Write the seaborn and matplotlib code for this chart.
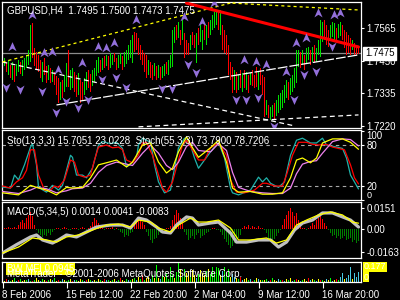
import matplotlib
matplotlib.use("Agg")
import matplotlib.pyplot as plt
from matplotlib.path import Path
import numpy as np
import seaborn as sns

# ---------------- data ----------------
SYMBOL_TEXT = "GBPUSD,H4  1.7495 1.7500 1.7473 1.7475"
LAST_PRICE = 1.7475

HIGH = [1.7452,1.7459,1.7445,1.7452,1.7435,1.7445,1.7431,1.7438,1.7452,1.7445,
        1.7452,1.7459,1.7470,1.7487,1.7575,1.7582,1.7494,1.7480,1.7470,1.7452,
        1.7445,1.7459,1.7431,1.7435,1.7424,1.7417,1.7410,1.7396,1.7389,1.7375,
        1.7382,1.7399,1.7442,1.7487,1.7417,1.7424,1.7410,1.7399,1.7406,1.7382,
        1.7375,1.7389,1.7410,1.7417,1.7403,1.7417,1.7424,1.7452,1.7463,1.7452,
        1.7459,1.7466,1.7470,1.7466,1.7477,1.7470,1.7477,1.7459,1.7470,1.7477,
        1.7466,1.7480,1.7487,1.7505,1.7522,1.7540,1.7551,1.7547,1.7529,1.7505,
        1.7487,1.7477,1.7470,1.7452,1.7445,1.7435,1.7442,1.7431,1.7435,1.7427,
        1.7431,1.7438,1.7445,1.7452,1.7470,1.7558,1.7568,1.7575,1.7586,1.7558,
        1.7593,1.7547,1.7522,1.7512,1.7540,1.7551,1.7540,1.7547,1.7565,1.7575,
        1.7558,1.7582,1.7575,1.7586,1.7593,1.7610,1.7621,1.7628,1.7621,1.7628,
        1.7575,1.7558,1.7540,1.7505,1.7445,1.7427,1.7417,1.7410,1.7399,1.7417,
        1.7406,1.7417,1.7410,1.7399,1.7406,1.7417,1.7399,1.7427,1.7410,1.7424,
        1.7399,1.7392,1.7311,1.7294,1.7287,1.7294,1.7301,1.7311,1.7329,1.7336,
        1.7347,1.7364,1.7382,1.7375,1.7389,1.7399,1.7424,1.7487,1.7487,1.7480,
        1.7487,1.7470,1.7494,1.7498,1.7487,1.7498,1.7505,1.7494,1.7522,1.7593,
        1.7586,1.7593,1.7575,1.7558,1.7575,1.7586,1.7582,1.7565,1.7579,1.7586,
        1.7575,1.7558,1.7551,1.7540,1.7529,1.7522,1.7512,1.7505,1.7500]
LOW = [1.7417,1.7431,1.7410,1.7399,1.7389,1.7382,1.7375,1.7396,1.7410,1.7403,
       1.7396,1.7417,1.7424,1.7435,1.7445,1.7459,1.7431,1.7417,1.7410,1.7389,
       1.7375,1.7399,1.7371,1.7382,1.7371,1.7375,1.7364,1.7329,1.7301,1.7311,
       1.7318,1.7340,1.7357,1.7357,1.7347,1.7354,1.7340,1.7322,1.7329,1.7301,
       1.7311,1.7329,1.7347,1.7354,1.7340,1.7361,1.7375,1.7396,1.7406,1.7410,
       1.7417,1.7424,1.7431,1.7417,1.7424,1.7435,1.7445,1.7417,1.7424,1.7438,
       1.7417,1.7427,1.7438,1.7452,1.7459,1.7442,1.7480,1.7487,1.7470,1.7452,
       1.7435,1.7410,1.7389,1.7399,1.7389,1.7382,1.7396,1.7382,1.7389,1.7382,
       1.7389,1.7396,1.7403,1.7399,1.7424,1.7427,1.7512,1.7522,1.7529,1.7505,
       1.7522,1.7459,1.7470,1.7470,1.7487,1.7505,1.7494,1.7442,1.7505,1.7515,
       1.7487,1.7522,1.7505,1.7529,1.7540,1.7558,1.7565,1.7575,1.7558,1.7540,
       1.7487,1.7477,1.7470,1.7399,1.7382,1.7336,1.7347,1.7336,1.7347,1.7354,
       1.7340,1.7354,1.7347,1.7336,1.7364,1.7361,1.7354,1.7357,1.7347,1.7364,
       1.7329,1.7252,1.7259,1.7248,1.7241,1.7252,1.7241,1.7255,1.7265,1.7276,
       1.7283,1.7301,1.7318,1.7311,1.7329,1.7340,1.7354,1.7371,1.7427,1.7424,
       1.7435,1.7417,1.7442,1.7452,1.7435,1.7445,1.7442,1.7445,1.7470,1.7463,
       1.7515,1.7522,1.7505,1.7498,1.7522,1.7533,1.7522,1.7515,1.7529,1.7536,
       1.7522,1.7494,1.7470,1.7477,1.7470,1.7487,1.7470,1.7470,1.7473]
BAR_DIR = ("uudududuud" "uuuuuddddd" "uddududddu" "duuduuddud" "duudduuuud"
           "ududuudduu" "duuuuudddd" "ddduddudud" "uuduuuudud" "uddduddudu"
           "ududuuuudu" "ddddddudud" "udududddud" "dduduuduuu" "uuuduuuuud"
           "uduududuuu" "uddduuuduu" "ddddduddd")

UP_FRACTAL_BAR = [5,15,21,25,28,40,48,52,56,67,91,100,106,121,127,132,142,147,152,158,166,169]
UP_FRACTAL_PRICE = [1.7498,1.7610,1.7477,1.7480,1.7417,1.7442,1.7498,1.7494,1.7512,1.7593,1.7603,
                    1.7586,1.7652,1.7452,1.7445,1.7435,1.7410,1.7512,1.7529,1.7617,1.7610,1.7617]
DN_FRACTAL_BAR = [2,9,20,27,32,38,43,50,57,62,80,85,93,97,117,122,128,136,146,151,157,165]
DN_FRACTAL_PRICE = [1.7354,1.7347,1.7340,1.7266,1.7305,1.7283,1.7311,1.7382,1.7389,1.7354,1.7350,
                    1.7350,1.7435,1.7406,1.7311,1.7311,1.7318,1.7217,1.7311,1.7399,1.7410,1.7498]

# drawn objects: (bars, prices)
CHAN_A = ([0, 145], [1.7445, 1.7222])
CHAN_B = ([68, 178], [1.7217, 1.7259])
CHAN_C = ([27, 178], [1.7294, 1.7470])
CHAN_D = ([0, 116], [1.7445, 1.7656])
TREND_RED = ([92, 178], [1.7652, 1.7498])
CHAN_F = ([115, 178], [1.7652, 1.7628])

PRICE_TICKS = [1.7565, 1.7450, 1.7335, 1.7220]

# Stochastics
STO_TEXT = "Sto(13,3,3) 15.7051 23.0228  Stoch(55,3,3) 73.7900 78.7206"
K_BAR = [0,4,6,8,11,14,15,17,18,22,25,28,30,34,35,37,40,42,45,48,50,54,57,60,62,64,67,68,70,74,
         76,78,81,84,86,88,91,94,96,98,104,108,111,114,115,118,124,128,130,132,134,138,141,144,147,
         150,154,157,160,162,167,170,172,174,178]
K_VAL = [18.5,17,36,29,51,77,82,51,18,11,21,14,21,65,62,36,36,32,46,80,85,82,84,75,48,52,62,80,90,84,
         51,26,10,14,46,76,90,80,61,46,70,84,61,17,10,7,14,33,26,32,24,18,26,65,87,
         90,83,83,90,80,77,75,61,36,15.7]
D_BAR = [0,4,7,10,12,14,16,18,21,24,26,28,31,34,36,38,41,44,46,48,52,55,58,60,62,65,68,70,72,75,
         78,80,82,85,88,90,92,95,98,101,104,108,112,114,117,121,126,130,132,136,140,142,145,148,152,
         155,158,162,165,168,171,174,176,178]
D_VAL = [20,17,26,32,43,73,73,36,14,14,20,18,29,58,55,36,33,36,58,77,80,76,77,73,58,54,65,83,84,65,
         36,17,11,26,58,80,87,73,58,58,76,83,65,29,11,10,14,24,24,20,20,36,65,84,84,
         81,80,81,77,75,73,51,32,23]
S_BAR = [0,8,14,17,22,27,32,35,40,44,48,52,57,62,65,70,74,78,82,85,88,92,95,98,104,108,112,115,118,
         124,130,135,140,144,147,150,154,157,160,165,170,174,178]
S_MAIN = [10,7,21,18,14,7,18,17,18,32,51,54,58,48,55,80,83,55,39,46,70,92,76,62,76,87,55,17,11,
          12,8,8,10,32,58,61,54,61,83,89,89,84,73.8]
S_SIGNAL = [12,9,14,18,16,10,13,16,17,24,40,50,55,52,50,68,80,68,50,44,55,78,84,72,70,82,72,40,18,
            12,10,9,9,17,38,52,56,57,68,85,89,88,78.7]
STO_LEVELS = [80, 20]
STO_TICKS = [100, 80, 20, 0]

# MACD
MACD_TEXT = "MACD(5,34,5) 0.0014 0.0041 -0.0083"
MACD_BAR = [0,7,14,17,20,25,28,32,37,42,47,54,60,64,68,72,77,80,84,87,92,95,98,104,108,114,117,122,
            128,134,138,142,146,150,155,160,165,170,174,178]
MACD_MAIN = [-0.0169,-0.0110,-0.0056,-0.0042,-0.0077,-0.0099,-0.0077,-0.0042,-0.0056,-0.0021,0.0014,
             0.0028,0.0028,0.0007,0.0077,0.0063,0.0014,-0.0021,-0.0028,0.0028,0.0085,0.0077,0.0028,
             0.0042,0.0049,-0.0028,-0.0092,-0.0092,-0.0077,-0.0077,-0.0127,-0.0092,-0.0007,0.0042,
             0.0063,0.0113,0.0113,0.0085,0.0063,0.0014]
SIG_BAR = [0,8,15,22,27,32,38,45,52,58,64,68,74,78,84,88,94,98,102,108,114,118,124,132,137,142,147,
           152,158,164,170,175,178]
MACD_SIGNAL = [-0.0169,-0.0127,-0.0063,-0.0077,-0.0092,-0.0056,-0.0042,-0.0007,0.0028,0.0035,0.0014,
               0.0063,0.0049,0.0007,-0.0021,0.0028,0.0077,0.0049,0.0049,0.0063,0.0007,-0.0077,-0.0077,
               -0.0063,-0.0099,-0.0077,0.0028,0.0063,0.0099,0.0120,0.0099,0.0049,0.0041]
MACD_HIST = [0.0005,0.0010,0.0008,0.0012,0.0006,0.0010,0.0014,0.0008,
             0.0030,0.0050,0.0060,0.0040,0.0080,0.0100,0.0120,0.0090,
             0.0030,-0.0010,
             -0.0030,-0.0040,-0.0056,-0.0040,-0.0050,-0.0030,-0.0040,-0.0020,
             -0.0010,0.0005,0.0010,-0.0005,0.0008,0.0015,0.0006,-0.0008,-0.0010,0.0005,0.0010,0.0008,
             -0.0005,0.0006,0.0012,0.0005,-0.0006,0.0010,0.0020,
             0.0050,0.0077,0.0060,0.0040,
             0.0010,0.0005,-0.0005,0.0010,0.0008,0.0005,0.0012,-0.0006,0.0007,-0.0010,-0.0020,
             -0.0030,-0.0056,-0.0040,-0.0050,-0.0030,-0.0020,
             0.0030,0.0060,0.0085,0.0070,0.0050,0.0030,
             -0.0020,-0.0050,-0.0080,-0.0099,-0.0070,-0.0060,-0.0040,-0.0030,-0.0020,
             -0.0010,0.0005,0.0010,0.0020,
             0.0060,0.0100,0.0134,0.0110,0.0080,0.0040,
             -0.0020,-0.0040,-0.0077,-0.0060,-0.0050,-0.0070,-0.0040,-0.0030,
             -0.0063,-0.0050,-0.0040,-0.0030,-0.0020,
             -0.0010,0.0005,0.0010,-0.0005,-0.0010,-0.0020,
             -0.0040,-0.0070,-0.0090,-0.0110,-0.0134,-0.0120,-0.0100,-0.0080,-0.0060,-0.0040,
             0.0010,0.0020,0.0015,0.0028,0.0010,0.0020,0.0015,0.0008,0.0020,0.0010,0.0005,-0.0010,
             -0.0030,-0.0060,-0.0092,-0.0080,-0.0070,-0.0050,-0.0030,-0.0010,
             0.0030,0.0070,0.0100,0.0130,0.0148,0.0120,0.0090,0.0110,0.0060,0.0030,
             0.0010,0.0005,-0.0005,0.0010,
             0.0020,0.0040,0.0030,0.0060,0.0080,0.0099,0.0070,0.0040,0.0020,
             -0.0010,-0.0030,-0.0050,-0.0040,-0.0060,-0.0050,-0.0070,-0.0060,-0.0050,-0.0080,-0.0070,
             -0.0060,-0.0090,-0.0080,-0.0099,-0.0083]
MACD_TICKS = [0.0151, 0.0, -0.0163]
MACD_TICK_LABELS = ["0.0151", "0.00", "-0.0163"]

# BW MFI
MFI_TEXT = "BW MFI 0.0945"
COPYRIGHT = "MetaTrader - \u00a92001-2006 MetaQuotes Software Corp."
MFI = [0.021,0.010,0.031,0.021,0.010,0.021,0.042,0.010,0.021,0.031,0.010,0.021,0.021,0.031,0.010,0.010,
       0.021,0.042,0.021,0.010,0.031,0.021,0.010,0.021,
       0.031,0.021,0.042,0.010,0.021,0.010,0.031,0.021,0.010,0.021,0.031,0.010,0.021,0.021,0.010,0.031,
       0.021,0.010,0.021,0.031,0.021,0.010,0.021,0.010,0.031,
       0.021,0.010,0.031,0.021,0.021,0.010,0.021,0.031,0.010,0.021,0.042,0.021,0.010,0.031,0.021,0.021,
       0.031,0.042,0.021,0.052,0.031,0.062,0.021,0.042,0.052,0.031,0.062,0.042,0.166,
       0.042,0.031,0.062,0.052,0.083,0.031,0.146,
       0.062,0.042,0.094,0.177,0.125,0.052,0.125,0.083,0.104,0.052,0.114,0.062,0.042,0.073,
       0.114,0.083,0.062,0.104,0.125,0.073,0.146,0.094,0.146,0.135,0.062,0.104,0.146,0.083,0.125,0.052,0.073,
       0.052,0.042,0.031,0.052,0.021,0.031,0.042,0.021,0.031,0.010,0.021,0.042,0.031,0.021,0.021,
       0.021,0.031,0.010,0.021,0.042,0.021,0.010,0.031,0.021,0.021,0.010,0.031,0.021,0.042,0.010,0.021,
       0.031,0.021,0.010,0.021,0.031,0.010,0.042,0.021,0.031,
       0.021,0.010,0.031,0.021,0.021,0.010,0.031,0.021,0.042,0.010,0.021,0.031,0.021,0.052,0.083,
       0.031,0.042,0.062,0.146,0.031,0.083,0.052,0.0945]
MFI_COLOR_CODE = ("gyrcgygcrgyygcgrgyycgyrg" "ycgyrgcyggyrcgyygcrygcygy" "gyrcgygycgryygcg"
                  "ygcygrgyycgyg" "ycgyggg" "gyggyggyygyycg" "yyygygggggycgggyc"
                  "cygrcyygcrgycyg" "ygcrgyycgrcygycgrycgyyrcy" "gcyrgycygcyrgcc" "ycccyccc")
MFI_LABELS = ["0.177", "0"]

TIME_TICK_BARS = [0, 32, 64, 96, 128, 160]
TIME_TICK_LABELS = ["8 Feb 2006", "15 Feb 12:00", "22 Feb 20:00", "2 Mar 04:00",
                    "9 Mar 12:00", "16 Mar 20:00"]

# ---------------- style ----------------
sns.set_theme(style="dark")
plt.rcParams["font.family"] = ["Liberation Sans", "DejaVu Sans"]
plt.rcParams["lines.scale_dashes"] = False
FS = 7

W, H = 400, 300
fig = plt.figure(figsize=(W / 100, H / 100), dpi=100, facecolor="black")
NB = len(HIGH)


def panel(top, bottom):
    ax = fig.add_axes([2 / W, 1 - bottom / H, 359 / W, (bottom - top) / H])
    ax.set_facecolor("black")
    for s in ax.spines.values():
        s.set_visible(True)
        s.set_color("white")
        s.set_linewidth(0.9)
    ax.grid(False)
    ax.tick_params(axis="y", which="both", left=False, right=True, labelleft=False,
                   labelright=True, colors="white", length=2.5, width=0.8, pad=1.5,
                   labelsize=FS)
    ax.tick_params(axis="x", bottom=False, labelbottom=False, top=False)
    return ax


def finish(ax):
    # two pixels per bar
    ax.set_xlim(-0.25, 179.25)
    ax.set_xlabel("")
    ax.set_ylabel("")


def line(ax, data, color, lw, ls="-", z=3):
    sns.lineplot(x=data[0], y=data[1], ax=ax, color=color, linewidth=lw,
                 linestyle=ls, sort=False, estimator=None, zorder=z)


# ---- main price panel ----
ax1 = panel(2, 128)
xb = np.arange(NB)
bar_cols = ["#00E000" if d == "u" else "#FF0000" for d in BAR_DIR]
ax1.axhline(LAST_PRICE, color="#8c8c8c", lw=0.9, zorder=1)
ax1.bar(xb, np.array(HIGH) - np.array(LOW), bottom=LOW, width=0.5, color=bar_cols,
        linewidth=0, zorder=2)

line(ax1, CHAN_A, "white", 0.9, (0, (3.5, 2.5)))
line(ax1, CHAN_B, "white", 0.9, (0, (3.5, 2.5)))
line(ax1, CHAN_C, "white", 0.9, (0, (7, 1.5)))
line(ax1, CHAN_D, "#FFFF00", 0.9, (0, (2.2, 2.2)))
line(ax1, CHAN_F, "#FFFF00", 0.9, (0, (2.2, 2.2)))
line(ax1, TREND_RED, "#FF0000", 2.2, "-", z=4)

up_marker = Path([(0, 1), (0.85, -0.9), (0, -0.35), (-0.85, -0.9), (0, 1)],
                 [Path.MOVETO, Path.LINETO, Path.LINETO, Path.LINETO, Path.CLOSEPOLY])
dn_marker = Path([(0, -1), (0.85, 0.9), (0, 0.35), (-0.85, 0.9), (0, -1)],
                 [Path.MOVETO, Path.LINETO, Path.LINETO, Path.LINETO, Path.CLOSEPOLY])
sns.scatterplot(x=UP_FRACTAL_BAR, y=UP_FRACTAL_PRICE, marker=up_marker, s=48,
                color="#9370DB", edgecolor="none", ax=ax1, zorder=5)
sns.scatterplot(x=DN_FRACTAL_BAR, y=DN_FRACTAL_PRICE, marker=dn_marker, s=48,
                color="#9370DB", edgecolor="none", ax=ax1, zorder=5)

ax1.set_ylim(1.7213, 1.7656)
ax1.set_yticks(PRICE_TICKS)
ax1.set_yticklabels([f"{v:.4f}" for v in PRICE_TICKS])
ax1.text(0.014, 0.929, SYMBOL_TEXT, transform=ax1.transAxes, color="white",
         fontsize=FS, va="center", ha="left", zorder=6)
ax1.annotate(f"{LAST_PRICE:.4f}", xy=(1.0, LAST_PRICE), xycoords=("axes fraction", "data"),
             xytext=(3.0, 0), textcoords="offset points", va="center", ha="left",
             fontsize=FS, color="black", annotation_clip=False, zorder=10,
             bbox=dict(boxstyle="square,pad=0.18", fc="white", ec="white"))
finish(ax1)

# ---- stochastic panel ----
ax2 = panel(130, 200)
for lv in STO_LEVELS:
    ax2.axhline(lv, color="#a8a8a8", lw=0.8, ls=(0, (2.5, 2.5)), zorder=1)
line(ax2, (K_BAR, K_VAL), "#20B2AA", 0.9)
line(ax2, (D_BAR, D_VAL), "#FF0000", 0.9)
line(ax2, (S_BAR, S_SIGNAL), "#EE82EE", 0.9)
line(ax2, (S_BAR, S_MAIN), "#FFFF00", 0.9)
ax2.set_ylim(-0.5, 102)
ax2.set_yticks(STO_TICKS)
ax2.set_yticklabels([str(v) for v in STO_TICKS])
tl = ax2.get_yticklabels()
tl[0].set_va("top")
tl[-1].set_va("bottom")
tl[-1].set_fontsize(6.5)
ax2.text(0.014, 0.843, STO_TEXT, transform=ax2.transAxes, color="white",
         fontsize=FS, va="center", ha="left", zorder=6)
finish(ax2)

# ---- MACD panel ----
ax3 = panel(202, 258)
hist_cols = ["#FF0000" if v > 0 else "#008000" for v in MACD_HIST]
ax3.bar(xb, MACD_HIST, width=0.5, color=hist_cols, linewidth=0, zorder=2)
line(ax3, (MACD_BAR, MACD_MAIN), "#C0C0C0", 2.3)
line(ax3, (SIG_BAR, MACD_SIGNAL), "#FFFF00", 0.9, z=4)
ax3.set_ylim(-0.0204, 0.0190)
ax3.set_yticks(MACD_TICKS)
ax3.set_yticklabels(MACD_TICK_LABELS)
ax3.text(0.014, 0.82, MACD_TEXT, transform=ax3.transAxes, color="white",
         fontsize=FS, va="center", ha="left", zorder=6)
finish(ax3)

# ---- BW MFI panel ----
ax4 = panel(262, 282)
cmap = {"g": "#00FF00", "y": "#FFFF00", "c": "#48C8E0", "r": "#FF0000"}
ax4.bar(xb, MFI, width=0.5, color=[cmap[c] for c in MFI_COLOR_CODE], linewidth=0,
        zorder=2)
ax4.set_ylim(0, 0.19)
ax4.set_yticks([])
ax4.text(0.014, 0.66, MFI_TEXT, transform=ax4.transAxes, color="white", fontsize=FS,
         va="center", ha="left", zorder=6,
         bbox=dict(boxstyle="square,pad=0.1", fc="#FFFF00", ec="none"))
ax4.text(0.014, 0.38, COPYRIGHT, transform=ax4.transAxes, color="white", fontsize=FS,
         va="center", ha="left", zorder=7)
ax4.text(1.008, 0.76, MFI_LABELS[0], transform=ax4.transAxes, color="white", fontsize=6.5,
         va="center", ha="left", clip_on=False,
         bbox=dict(boxstyle="square,pad=0.05", fc="#FFFF00", ec="none"))
ax4.text(1.008, 0.24, MFI_LABELS[1], transform=ax4.transAxes, color="white", fontsize=6.5,
         va="center", ha="left", clip_on=False,
         bbox=dict(boxstyle="square,pad=0.05", fc="#FFFF00", ec="none"))
finish(ax4)
ax4.set_xticks(TIME_TICK_BARS)
ax4.set_xticklabels(TIME_TICK_LABELS)
ax4.tick_params(axis="x", bottom=True, labelbottom=True, colors="white", length=4,
                width=0.8, pad=1.5, labelsize=FS)
for lbl in ax4.get_xticklabels():
    lbl.set_ha("left")

fig.savefig("out.png", dpi=100, facecolor="black")
